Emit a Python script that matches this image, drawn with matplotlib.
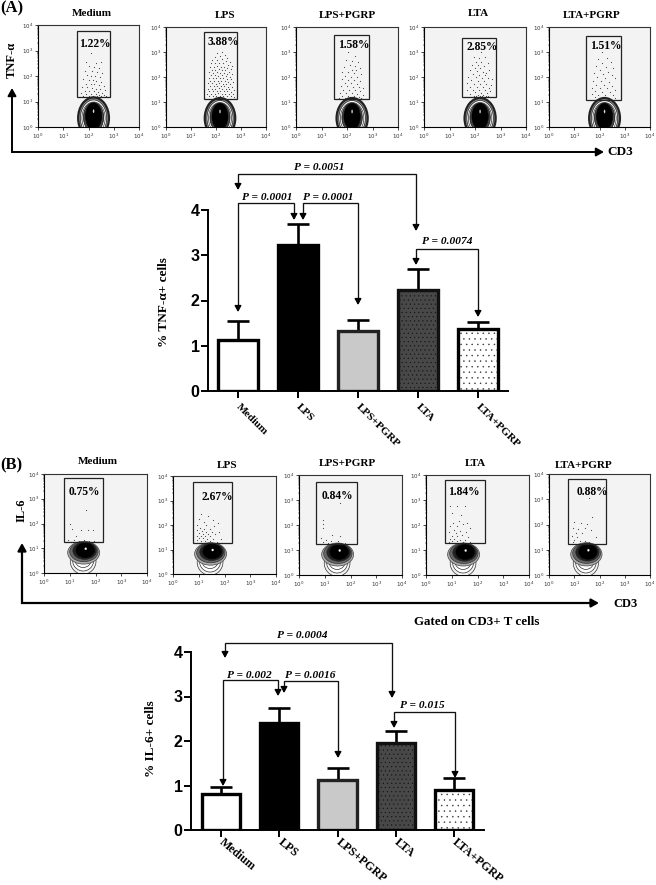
import matplotlib
matplotlib.use('Agg')
import matplotlib.pyplot as plt
from matplotlib.patches import Ellipse, Rectangle

W, H = 656, 885
SERIF = 'Liberation Serif'
SANS = 'Liberation Sans'

# bar values
groups = ['Medium', 'LPS', 'LPS+PGRP', 'LTA', 'LTA+PGRP']
tnf_mean = [1.12, 3.23, 1.33, 2.23, 1.37]
tnf_err = [0.42, 0.47, 0.23, 0.47, 0.16]
il6_mean = [0.82, 2.40, 1.12, 1.96, 0.90]
il6_err = [0.15, 0.35, 0.28, 0.27, 0.26]

# gate percentages
pct_a = ['1.22%', '3.88%', '1.58%', '2.85%', '1.51%']
pct_b = ['0.75%', '2.67%', '0.84%', '1.84%', '0.88%']

# flow plot gates in decades: x0, x1, y0, y1
gates_a = [(1.54, 2.85, 1.18, 3.76), (1.52, 2.84, 1.12, 3.80), (1.49, 2.86, 1.12, 3.70),
           (1.49, 2.82, 1.22, 3.57), (1.46, 2.85, 1.10, 3.65)]
gates_b = [(0.78, 2.29, 1.25, 3.84), (0.78, 2.29, 1.25, 3.75), (0.66, 2.25, 1.24, 3.72),
           (0.74, 2.29, 1.28, 3.80), (0.77, 2.27, 1.24, 3.80)]

# population centres on the CD3 axis
centre_a = [2.20, 2.16, 2.20, 2.20, 2.20]
centre_b = [1.52, 1.44, 1.48, 1.44, 1.46]

# events, decades (x, y)
dots_a_medium = [(2.1, 2.9), (1.9, 2.55), (2.3, 2.5), (2.5, 2.55), (2.0, 2.4), (2.2, 2.35), (2.4, 2.3), (1.85, 2.2),
                 (2.15, 2.2), (2.35, 2.15), (2.55, 2.1), (1.95, 2.05), (2.1, 2.0), (2.25, 2.0), (2.45, 1.95), (1.8, 1.9),
                 (2.0, 1.85), (2.18, 1.85), (2.3, 1.8), (2.5, 1.78), (1.9, 1.7), (2.08, 1.7), (2.22, 1.68), (2.4, 1.65),
                 (2.6, 1.6), (1.75, 1.55), (1.95, 1.55), (2.12, 1.52), (2.28, 1.5), (2.45, 1.5), (2.65, 1.45), (1.85, 1.42),
                 (2.02, 1.4), (2.2, 1.4), (2.36, 1.38), (2.52, 1.35), (1.7, 1.32), (1.92, 1.3), (2.1, 1.3), (2.28, 1.28),
                 (2.42, 1.25), (2.6, 1.25), (1.8, 1.22), (2.0, 1.22), (2.18, 1.2), (2.33, 1.2), (2.5, 1.2), (2.7, 1.2)]
dots_a_lps = [(2.25, 3.0), (2.05, 2.95), (2.35, 2.9), (1.95, 2.8), (2.15, 2.85), (2.45, 2.75), (1.85, 2.7), (2.05, 2.7),
              (2.25, 2.72), (2.38, 2.65), (2.55, 2.6), (1.8, 2.55), (1.95, 2.58), (2.12, 2.55), (2.28, 2.55), (2.48, 2.5),
              (2.62, 2.45), (1.75, 2.42), (1.9, 2.42), (2.02, 2.45), (2.18, 2.42), (2.32, 2.42), (2.42, 2.38), (2.58, 2.32),
              (1.82, 2.3), (1.96, 2.3), (2.1, 2.32), (2.24, 2.3), (2.36, 2.28), (2.5, 2.22), (1.72, 2.2), (1.88, 2.18),
              (2.04, 2.2), (2.16, 2.18), (2.3, 2.18), (2.44, 2.14), (2.62, 2.12), (1.78, 2.08), (1.94, 2.08), (2.08, 2.06),
              (2.22, 2.08), (2.38, 2.04), (2.54, 2.02), (1.7, 1.98), (1.86, 1.96), (2.0, 1.98), (2.14, 1.96), (2.28, 1.96),
              (2.42, 1.94), (2.6, 1.92), (1.76, 1.86), (1.92, 1.86), (2.06, 1.86), (2.2, 1.84), (2.34, 1.86), (2.48, 1.82),
              (2.66, 1.8), (1.68, 1.76), (1.84, 1.76), (1.98, 1.74), (2.12, 1.76), (2.26, 1.74), (2.4, 1.74), (2.56, 1.72),
              (1.74, 1.66), (1.9, 1.64), (2.04, 1.66), (2.18, 1.64), (2.32, 1.64), (2.46, 1.62), (2.62, 1.62), (1.66, 1.54),
              (1.82, 1.54), (1.96, 1.54), (2.1, 1.56), (2.24, 1.54), (2.38, 1.54), (2.52, 1.52), (2.7, 1.5), (1.72, 1.44),
              (1.88, 1.44), (2.02, 1.44), (2.16, 1.46), (2.3, 1.44), (2.44, 1.44), (2.6, 1.42), (1.62, 1.34), (1.78, 1.34),
              (1.94, 1.34), (2.08, 1.36), (2.22, 1.34), (2.36, 1.34), (2.5, 1.34), (2.66, 1.32), (1.7, 1.24), (1.86, 1.24),
              (2.0, 1.24), (2.14, 1.26), (2.28, 1.24), (2.42, 1.24), (2.58, 1.24), (2.72, 1.22)]
dots_a_lps_pgrp = [(2.05, 3.0), (2.3, 2.85), (1.95, 2.7), (2.2, 2.65), (2.45, 2.6), (2.1, 2.5), (2.3, 2.45), (1.9, 2.4),
                   (2.5, 2.35), (2.18, 2.3), (2.36, 2.28), (1.82, 2.2), (2.02, 2.2), (2.26, 2.15), (2.56, 2.12), (1.94, 2.05),
                   (2.14, 2.02), (2.4, 2.0), (1.8, 1.92), (2.05, 1.9), (2.28, 1.88), (2.5, 1.85), (1.92, 1.78), (2.16, 1.76),
                   (2.38, 1.72), (1.76, 1.66), (2.0, 1.64), (2.22, 1.62), (2.46, 1.6), (2.62, 1.55), (1.86, 1.5), (2.08, 1.5),
                   (2.3, 1.48), (2.52, 1.45), (1.72, 1.38), (1.96, 1.36), (2.18, 1.36), (2.4, 1.34), (2.62, 1.3), (1.82, 1.26),
                   (2.04, 1.24), (2.26, 1.24), (2.48, 1.22), (1.7, 1.18), (1.92, 1.17), (2.14, 1.16), (2.36, 1.16), (2.56, 1.16)]
dots_a_lta = [(2.22, 3.0), (1.95, 2.8), (2.15, 2.75), (2.4, 2.8), (2.05, 2.62), (2.25, 2.6), (2.5, 2.55), (1.88, 2.5),
              (2.12, 2.48), (2.36, 2.45), (2.0, 2.38), (2.2, 2.35), (2.55, 2.3), (1.8, 2.28), (2.08, 2.24), (2.3, 2.22),
              (2.45, 2.18), (1.92, 2.12), (2.16, 2.1), (2.38, 2.08), (1.72, 2.02), (2.02, 2.0), (2.26, 1.98), (2.5, 1.96),
              (2.66, 1.92), (1.84, 1.88), (2.1, 1.86), (2.34, 1.84), (1.7, 1.76), (1.96, 1.74), (2.2, 1.74), (2.44, 1.72),
              (2.62, 1.68), (1.8, 1.62), (2.06, 1.62), (2.3, 1.6), (2.54, 1.56), (1.68, 1.5), (1.92, 1.5), (2.14, 1.5),
              (2.38, 1.48), (2.6, 1.44), (2.0, 1.4), (2.22, 1.38), (2.46, 1.36), (1.82, 1.34), (2.1, 1.3), (2.3, 1.28),
              (1.95, 1.26), (2.18, 1.25), (2.42, 1.25), (2.05, 1.24), (2.28, 1.24), (2.52, 1.25)]
dots_a_lta_pgrp = [(2.1, 3.0), (1.95, 2.72), (2.3, 2.75), (2.45, 2.6), (2.1, 2.55), (1.85, 2.45), (2.25, 2.42), (2.55, 2.35),
                   (2.0, 2.3), (2.35, 2.22), (1.78, 2.15), (2.12, 2.12), (2.48, 2.08), (1.9, 2.0), (2.22, 1.98), (2.6, 1.95),
                   (1.75, 1.85), (2.05, 1.85), (2.36, 1.82), (1.88, 1.7), (2.16, 1.7), (2.5, 1.66), (1.72, 1.58), (2.0, 1.56),
                   (2.28, 1.56), (2.62, 1.5), (1.84, 1.44), (2.1, 1.42), (2.4, 1.4), (1.7, 1.32), (1.96, 1.3), (2.22, 1.3),
                   (2.52, 1.28), (1.82, 1.2), (2.06, 1.18), (2.32, 1.18), (2.6, 1.16)]
dots_b_medium = [(1.65, 2.55), (1.0, 2.0), (1.1, 1.78), (1.42, 1.72), (1.72, 1.75), (1.9, 1.72), (1.25, 1.5), (0.95, 1.35),
                 (1.15, 1.32), (1.35, 1.3), (1.55, 1.32), (1.75, 1.3), (1.95, 1.28), (1.05, 1.26), (1.48, 1.26)]
dots_b_lps = [(1.1, 2.45), (1.35, 2.35), (1.0, 2.25), (1.55, 2.2), (1.2, 2.12), (1.75, 2.1), (0.95, 2.0), (1.3, 1.98),
              (1.6, 1.95), (1.05, 1.88), (1.2, 1.85), (1.42, 1.85), (0.95, 1.78), (1.12, 1.76), (1.3, 1.72), (1.5, 1.72),
              (1.8, 1.72), (1.0, 1.66), (1.18, 1.65), (1.36, 1.62), (1.62, 1.62), (0.92, 1.56), (1.08, 1.55), (1.24, 1.55),
              (1.44, 1.54), (1.02, 1.46), (1.16, 1.45), (1.32, 1.44), (1.55, 1.44), (1.85, 1.42), (0.95, 1.38), (1.1, 1.36),
              (1.26, 1.35), (1.42, 1.34), (1.7, 1.32), (1.0, 1.28), (1.18, 1.28), (1.35, 1.27), (1.52, 1.27), (1.9, 1.28)]
dots_b_lps_pgrp = [(1.58, 2.88), (0.95, 2.2), (0.92, 2.05), (0.95, 1.9), (1.3, 1.6), (1.6, 1.55), (0.85, 1.5), (1.05, 1.42),
                   (1.25, 1.38), (1.5, 1.36), (0.95, 1.32), (1.12, 1.3), (1.38, 1.3), (1.62, 1.3), (1.8, 1.3)]
dots_b_lta = [(0.95, 2.75), (1.2, 2.78), (1.5, 2.78), (1.0, 2.5), (1.35, 2.42), (1.6, 2.1), (1.3, 2.15), (1.05, 2.08),
              (1.45, 2.05), (0.95, 1.95), (1.2, 1.95), (1.7, 1.88), (1.08, 1.82), (1.32, 1.78), (1.55, 1.72), (0.9, 1.72),
              (1.15, 1.68), (1.4, 1.62), (1.0, 1.58), (1.22, 1.55), (1.62, 1.52), (0.92, 1.46), (1.1, 1.44), (1.32, 1.42),
              (1.5, 1.42), (1.02, 1.36), (1.2, 1.35), (1.42, 1.33), (0.9, 1.32), (1.7, 1.32)]
dots_b_lta_pgrp = [(1.6, 3.05), (1.7, 2.3), (1.0, 2.1), (1.25, 2.05), (1.5, 2.02), (0.95, 1.88), (1.15, 1.82), (1.42, 1.85),
                   (1.68, 1.78), (1.05, 1.68), (1.3, 1.65), (0.92, 1.55), (1.12, 1.5), (1.85, 1.5), (1.0, 1.4), (1.22, 1.36),
                   (1.42, 1.34), (0.95, 1.3), (1.6, 1.3)]

dots_a = [dots_a_medium, dots_a_lps, dots_a_lps_pgrp, dots_a_lta, dots_a_lta_pgrp]
dots_b = [dots_b_medium, dots_b_lps, dots_b_lps_pgrp, dots_b_lta, dots_b_lta_pgrp]

# plot frames in pixels: left, top, right, bottom
frames_a = [(38, 25, 139, 127), (166, 27, 266, 127), (296, 27, 398, 127), (424, 27, 526, 127), (549, 27, 650, 127)]
frames_b = [(44, 474, 147, 573), (173, 476, 276, 574), (299, 475, 402, 575), (426, 475, 529, 575), (549, 474, 650, 575)]

# contour rings: dx, y, width, height, face, edge, lw
rings_a = [(0, 0.35, 1.22, 1.62, '#8a8a8a', '#222222', 1.6),
           (0, 0.35, 1.04, 1.42, 'white', '#222222', 0.5),
           (0, 0.35, 0.92, 1.26, 'white', '#333333', 0.5),
           (0, 0.38, 0.80, 1.16, '#444444', '#111111', 0.5),
           (0, 0.42, 0.64, 1.04, 'black', 'black', 0.4),
           (0, 0.62, 0.05, 0.14, '#dddddd', '#dddddd', 0.1)]
rings_b = [(0.0, 0.48, 1.00, 1.06, '#f2f2f2', '#333333', 0.5),
           (0.0, 0.52, 0.82, 0.88, 'white', '#333333', 0.5),
           (0.0, 0.58, 0.66, 0.72, 'white', '#333333', 0.5),
           (0.02, 0.82, 1.24, 0.92, '#aaaaaa', '#444444', 0.5),
           (0.03, 0.86, 1.10, 0.80, '#666666', '#333333', 0.5),
           (0.06, 0.90, 0.92, 0.70, '#222222', '#222222', 0.4),
           (0.08, 0.92, 0.72, 0.60, 'black', 'black', 0.3),
           (0.10, 0.98, 0.08, 0.09, 'white', 'white', 0.1)]

dec_labels = [r'$\mathdefault{10^{%d}}$' % i for i in range(5)]
minor = [d + m for d in range(4) for m in (0.3, 0.48, 0.6, 0.7, 0.78, 0.85, 0.9, 0.95)]

plt.rcParams['mathtext.fontset'] = 'custom'
plt.rcParams['mathtext.rm'] = SERIF
plt.rcParams['hatch.linewidth'] = 0.3
fig = plt.figure(figsize=(W / 100, H / 100), dpi=100)


def add_px_axes(left, top, right, bottom, **kw):
    return fig.add_axes([left / W, 1 - bottom / H, (right - left) / W, (bottom - top) / H], **kw)


def flow_plot(frame, gate, centre, dots, rings):
    ax = add_px_axes(*frame, facecolor='#f3f3f3')
    ax.set_xlim(0, 4)
    ax.set_ylim(0, 4)
    ax.scatter([d[0] for d in dots], [d[1] for d in dots], s=0.7, color='#444444', lw=0, zorder=2)
    for dx, y, w, h, fc, ec, lw in rings:
        ax.add_patch(Ellipse((centre + dx, y), w, h, fc=fc, ec=ec, lw=lw, zorder=3))
    ax.add_patch(Rectangle((gate[0], gate[2]), gate[1] - gate[0], gate[3] - gate[2],
                           fill=False, ec='#222222', lw=0.9, zorder=4))
    ax.set_xticks(range(5), dec_labels, fontsize=4)
    ax.set_yticks(range(5), dec_labels, fontsize=4)
    ax.set_xticks(minor, minor=True)
    ax.set_yticks(minor, minor=True)
    ax.tick_params(length=2, width=0.5, pad=1.5, color='black', labelcolor='#333333')
    ax.tick_params(which='minor', length=1, width=0.35)
    for side in ('top', 'right'):
        ax.spines[side].set_color('#333333')
    for sp in ax.spines.values():
        sp.set_linewidth(0.8)
    return ax


for i in range(5):
    flow_plot(frames_a[i], gates_a[i], centre_a[i], dots_a[i], rings_a)
    flow_plot(frames_b[i], gates_b[i], centre_b[i], dots_b[i], rings_b)


def bar_plot(frame, xlim, means, errs, ylabel, tick_size, tick_rot, tick_pad):
    ax = add_px_axes(*frame)
    ax.patch.set_alpha(0)
    faces = ['white', 'black', '#c9c9c9', '#484848', 'white']
    edges = ['black', 'black', '#222222', '#111111', 'black']
    x = list(range(len(means)))
    ax.errorbar(x, means, yerr=[[0] * 5, errs], fmt='none', ecolor='black', elinewidth=1.9,
                capsize=8, capthick=1.9, zorder=2)
    ax.bar(x, means, width=0.66, color=faces, zorder=3)
    # dots sit in their own layer so that the outline keeps its colour
    ax.bar(x[3:], means[3:], width=0.66, color='none', edgecolor=['#111111', '#333333'],
           hatch=['....', '...'], linewidth=0, zorder=4)
    ax.bar(x, means, width=0.66, color='none', edgecolor=edges, linewidth=2.4, zorder=5)
    ax.set_xlim(*xlim)
    ax.set_ylim(0, 4)
    ax.set_yticks(range(5))
    ax.set_xticks(x)
    ax.set_xticklabels(groups, rotation=tick_rot, ha='left', va='center', rotation_mode='anchor',
                       family=SERIF, weight='bold', fontsize=tick_size)
    for t in ax.get_yticklabels():
        t.set_family(SANS)
        t.set_weight('bold')
        t.set_fontsize(11.5)
    ax.tick_params(width=1.4, length=5)
    ax.tick_params(axis='y', pad=1)
    ax.tick_params(axis='x', pad=tick_pad)
    for side in ('top', 'right'):
        ax.spines[side].set_visible(False)
    for side in ('left', 'bottom'):
        ax.spines[side].set_linewidth(1.4)
    ax.spines['left'].set_zorder(6)
    ax.spines['bottom'].set_zorder(6)
    ax.set_ylabel(ylabel, family=SERIF, weight='bold', fontsize=9.5, labelpad=0)
    return ax


ax1 = bar_plot((208, 210, 508, 391), (-0.5, 4.5), tnf_mean, tnf_err, '% TNF-\u03b1+ cells', 8, -45, 5)
ax2 = bar_plot((191, 652, 484, 830), (-0.515, 4.515), il6_mean, il6_err, '% IL-6+ cells', 8.6, -40, 3)
ax1.yaxis.set_label_coords((170 - 208) / 300, 0.49)
ax2.yaxis.set_label_coords((157 - 191) / 293, 0.515)

# overlay in pixels for titles, arrows and p values
ov = fig.add_axes([0, 0, 1, 1], facecolor='none')
ov.set_xlim(0, W)
ov.set_ylim(H, 0)
ov.axis('off')


def label(x, y, s, size=7.5, **kw):
    ov.text(x, y, s, ha='center', va='center', family=SERIF, weight='bold', fontsize=size, **kw)


def arrow(x0, y0, x1, y1, lw=1.0, head=4):
    ov.annotate('', xy=(x1, y1), xytext=(x0, y0),
                arrowprops=dict(arrowstyle='-|>,head_width=%.2f,head_length=%.2f' % (head * 0.05, head * 0.09),
                                color='black', lw=lw, shrinkA=0, shrinkB=0))


def bracket(x0, tip0, top, x1, tip1, text, tx, ty):
    ov.plot([x0, x0, x1, x1], [tip0 - 3, top, top, tip1 - 3], color='#111111', lw=0.95, solid_joinstyle='miter')
    arrow(x0, tip0 - 6, x0, tip0)
    arrow(x1, tip1 - 6, x1, tip1)
    ov.text(tx, ty, text, ha='center', va='center', family=SERIF, weight='bold', style='italic', fontsize=8.2)


title_pos_a = [(92, 13), (225, 16), (347, 15), (478, 14), (592, 16)]
title_pos_b = [(98, 462), (227, 465), (347, 464), (475, 463), (584, 465)]
pct_pos_a = [(95, 44), (223, 42), (354, 45), (482, 47), (606, 46)]
pct_pos_b = [(84, 492), (217, 497), (337, 496), (464, 492), (592, 492)]
for i in range(5):
    label(*title_pos_a[i], groups[i], 8)
    label(*title_pos_b[i], groups[i], 8)
    label(*pct_pos_a[i], pct_a[i], 8.3)
    label(*pct_pos_b[i], pct_b[i], 8.3)

label(12, 8, '(A)', 12)
label(11, 465, '(B)', 12)
label(12, 60, 'TNF-\u03b1', 9, rotation=90)
label(22, 510, 'IL-6', 9, rotation=90)
label(620, 152, 'CD3', 9.5)
label(625, 604, 'CD3', 9)
label(477, 622, 'Gated on CD3+ T cells', 9.4)

# big axis arrows
ov.plot([12, 12, 598], [94, 152, 152], color='black', lw=1.4, solid_joinstyle='miter')
arrow(12, 96, 12, 88, 1.4, 5)
arrow(596, 152, 604, 152, 1.4, 5)
ov.plot([22, 22, 593], [549, 603, 603], color='black', lw=1.6, solid_joinstyle='miter')
arrow(22, 551, 22, 543, 1.6, 5)
arrow(591, 603, 599, 603, 1.6, 5)

bracket(238, 190, 174, 416, 231, 'P = 0.0051', 319, 168)
bracket(238, 312, 203, 294, 220, 'P = 0.0001', 267, 197)
bracket(303, 220, 203, 358, 305, 'P = 0.0001', 328, 197)
bracket(416, 265, 249, 478, 317, 'P = 0.0074', 447, 241)
bracket(225, 658, 643, 392, 698, 'P = 0.0004', 302, 636)
bracket(223, 786, 680, 278, 696, 'P = 0.002', 249, 675)
bracket(284, 693, 681, 338, 758, 'P = 0.0016', 310, 675)
bracket(394, 728, 712, 455, 778, 'P = 0.015', 422, 705)

fig.savefig('out.png', dpi=100)
